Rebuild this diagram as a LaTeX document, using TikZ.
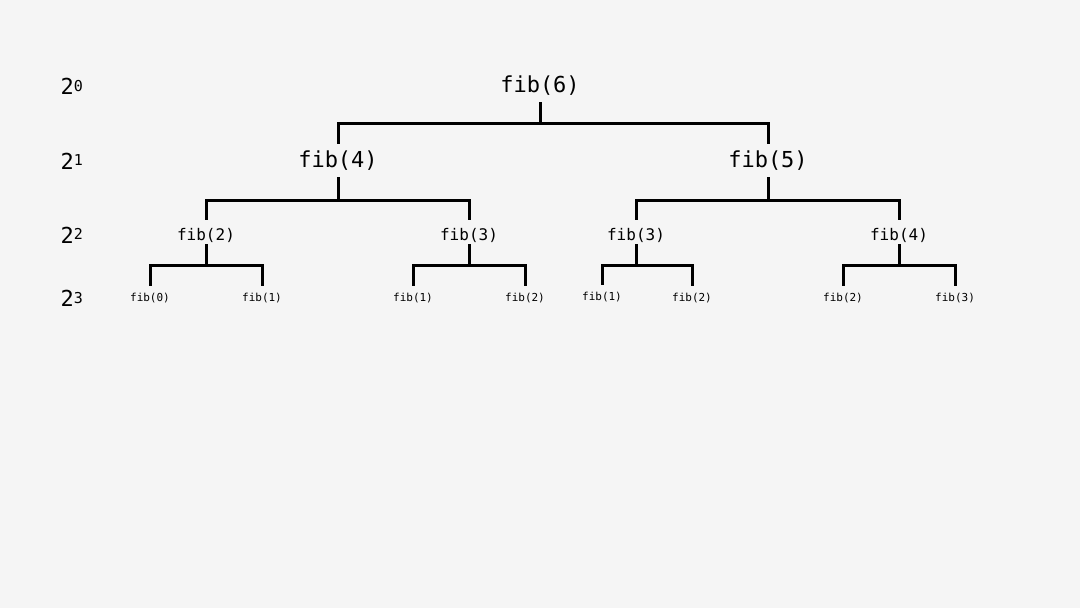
\documentclass[tikz,border=0pt]{standalone}
\usepackage{fontspec}
\newfontfamily\codefont{DejaVu Sans Mono}
\definecolor{paper}{HTML}{F5F5F5}
\newcommand\pw[1]{2\raisebox{3.5pt}{\fontsize{15}{17}\selectfont #1}}
\tikzset{
    call/.style={inner sep=0pt, text depth=0pt},
    big/.style={call, font=\codefont\fontsize{22}{24}\selectfont, text height=14pt, minimum height=36pt},
    mid/.style={call, font=\codefont\fontsize{16}{18}\selectfont, text height=16pt, minimum height=26pt},
    small/.style={call, font=\codefont\fontsize{11}{13}\selectfont, text height=13.4pt, minimum height=20pt},
    level/.style={anchor=base west, inner sep=0pt, font=\codefont\fontsize{22}{24}\selectfont},
    branch/.style={line width=3pt, line cap=rect}
}
\begin{document}
\begin{tikzpicture}[x=1pt, y=-1pt]
    % Nền
    \fill[paper] (0,0) rectangle (1080,608);
    \useasboundingbox (0,0) rectangle (1080,608);

    % Nhãn các tầng
    \node[level] (L0) at (60.5,94.5) {\pw{0}};
    \node[level] (L1) at (60.5,169)  {\pw{1}};
    \node[level] (L2) at (60.5,243)  {\pw{2}};
    \node[level] (L3) at (60.5,306.5) {\pw{3}};

    % Các lời gọi
    \node[big] (r)   at (540,85)    {fib(6)};
    \node[big] (a)   at (338,160.3) {fib(4)};
    \node[big] (b)   at (768,160.3) {fib(5)};
    \node[mid] (aa)  at (206,232) {fib(2)};
    \node[mid] (ab)  at (469,232) {fib(3)};
    \node[mid] (ba)  at (636,232) {fib(3)};
    \node[mid] (bb)  at (899,232) {fib(4)};
    \node[small] (aaa) at (150,295) {fib(0)};
    \node[small] (aab) at (262,295) {fib(1)};
    \node[small] (aba) at (413,295) {fib(1)};
    \node[small] (abb) at (525,295) {fib(2)};
    \node[small] (baa) at (602,294) {fib(1)};
    \node[small] (bab) at (692,295) {fib(2)};
    \node[small] (bba) at (843,295) {fib(2)};
    \node[small] (bbb) at (955,295) {fib(3)};

    % Điểm giữa các thanh ngang
    \coordinate (jr)  at (540,123);
    \coordinate (ja)  at (338,200);
    \coordinate (jb)  at (768,200);
    \coordinate (jaa) at (206,265);
    \coordinate (jab) at (469,265);
    \coordinate (jba) at (636,265);
    \coordinate (jbb) at (899,265);

    % Vẽ các nhánh
    \draw[branch] (r) -- (jr);
    \draw[branch] (a.north) |- (jr) -| (b.north);
    \draw[branch] (a) -- (ja);
    \draw[branch] (aa.north) |- (ja) -| (ab.north);
    \draw[branch] (b) -- (jb);
    \draw[branch] (ba.north) |- (jb) -| (bb.north);
    \draw[branch] (aa) -- (jaa);
    \draw[branch] (aaa.north) |- (jaa) -| (aab.north);
    \draw[branch] (ab) -- (jab);
    \draw[branch] (aba.north) |- (jab) -| (abb.north);
    \draw[branch] (ba) -- (jba);
    \draw[branch] (baa.north) |- (jba) -| (bab.north);
    \draw[branch] (bb) -- (jbb);
    \draw[branch] (bba.north) |- (jbb) -| (bbb.north);
\end{tikzpicture}
\end{document}
